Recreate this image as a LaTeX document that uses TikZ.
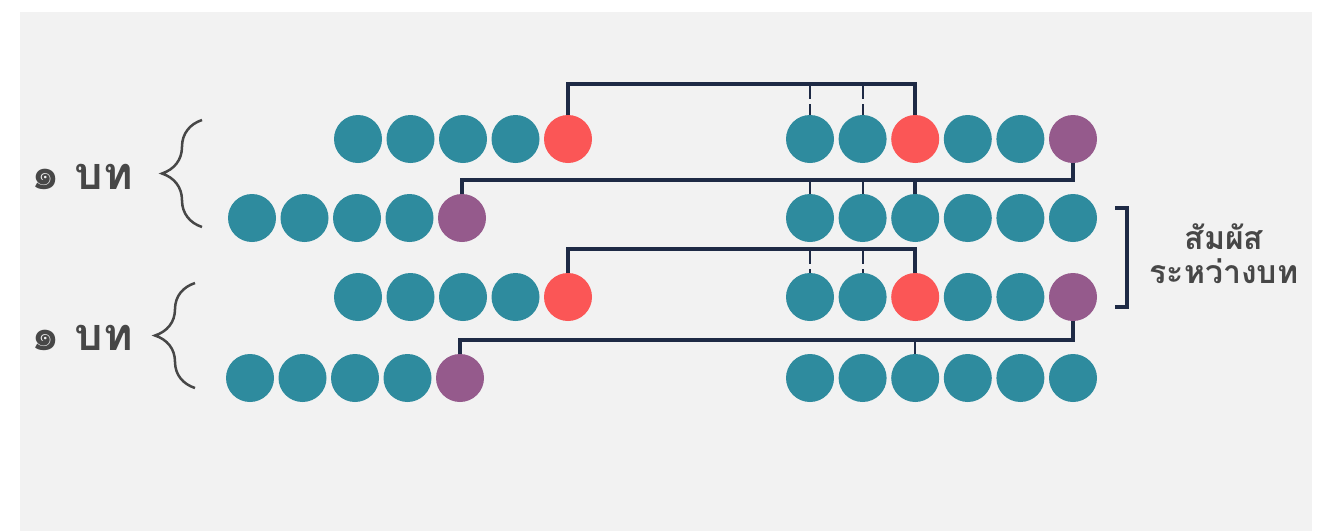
\documentclass[tikz,border=0pt]{standalone}
\usepackage{fontspec}
\newfontfamily\thaifont[Script=Thai]{Loma}
\usepackage{xcolor}
\usepackage{tikz}
\usetikzlibrary{positioning,decorations.pathreplacing}

\definecolor{bgback}{HTML}{F2F2F2}
\definecolor{beadteal}{HTML}{2E8B9E}
\definecolor{beadred}{HTML}{FB5656}
\definecolor{beadpurple}{HTML}{955A8C}
\definecolor{linknavy}{HTML}{1E2A45}
\definecolor{labelgray}{HTML}{474747}

\tikzset{
	bead/.style={circle, minimum size=48pt, inner sep=0pt, fill=beadteal},
	bond/.style={draw=linknavy, line width=3.5pt},
	heavybond/.style={draw=linknavy, line width=4.5pt},
	tick/.style={draw=linknavy, line width=2pt},
	curl/.style={draw=labelgray, line width=2.5pt, decorate, decoration={brace, amplitude=40pt}},
	thaitext/.style={text=labelgray, font=\thaifont\bfseries}
}

\begin{document}
\begin{tikzpicture}[x=1pt,y=-1pt]
			\useasboundingbox (0,0) rectangle (1327,531);
			\fill[bgback] (20,12) rectangle (1312,531);
			\foreach \row/\y/\lx/\lend/\rthree/\rsix in {1/139/358/beadred/beadred/beadpurple, 2/218/252/beadpurple/beadteal/beadteal, 3/297/358/beadred/beadred/beadpurple, 4/378/250/beadpurple/beadteal/beadteal}
			{
				\foreach \i in {1,...,4}
					\node[bead] (l\row\i) at ({\lx+52.5*(\i-1)},\y) {};
				\node[bead, fill=\lend] (l\row5) at ({\lx+210},\y) {};
				\foreach \i/\c in {1/beadteal,2/beadteal,3/\rthree,4/beadteal,5/beadteal,6/\rsix}
					\node[bead, fill=\c] (r\row\i) at ({810+52.6*(\i-1)},\y) {};
			}
			\coordinate (top1) at (0,84);
			\coordinate (mid1) at (0,180);
			\coordinate (top2) at (0,249);
			\coordinate (mid2) at (0,340);

			\draw[bond] (l15.north) -- (l15.north |- top1) -| (r13.north);
			\draw[bond] (l35.north) -- (l35.north |- top2) -| (r33.north);
			\foreach \i in {1,2}
			{
				\draw[tick, dash pattern=on 15pt off 5pt] (r1\i.north |- top1) -- (r1\i.north);
				\draw[tick, dash pattern=on 15pt off 5pt] (r3\i.north |- top2) -- (r3\i.north);
				\draw[tick] (r2\i.north |- mid1) -- (r2\i.north);
			}
			\draw[heavybond] (r16.south) -- (r16.south |- mid1) -| (l25.north);
			\draw[heavybond] (r23.north |- mid1) -- (r23.north);
			\draw[heavybond] (r36.south) -- (r36.south |- mid2) -| (l45.north);
			\draw[tick] (r43.north |- mid2) -- (r43.north);

			\draw[bond] (1115,208) -| (1127,307) -- (1115,307);
			\node[thaitext, font=\thaifont\bfseries\fontsize{32}{34}\selectfont, align=center] (between) at (1224,254) {สัมผัส\\ระหว่างบท};

			\node[thaitext, font=\thaifont\bfseries\fontsize{45}{48}\selectfont] (verse1) at (82,177) {๑ บท};
			\node[thaitext, font=\thaifont\bfseries\fontsize{45}{48}\selectfont] (verse2) at (82,338) {๑ บท};
			\draw[curl] (202,227) -- (202,120);
			\draw[curl] (195,388) -- (195,283);
		\end{tikzpicture}
\end{document}
